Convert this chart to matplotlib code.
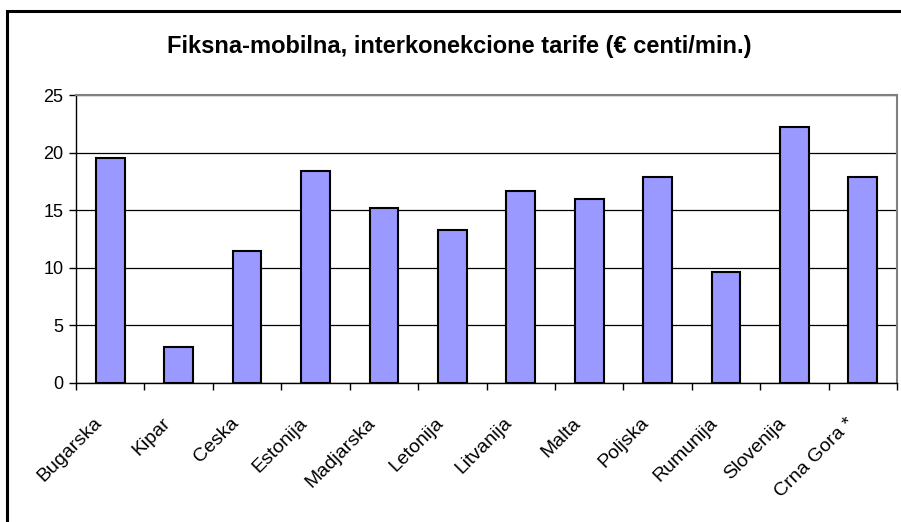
import numpy as np
import matplotlib.pyplot as plt
from matplotlib.patches import Rectangle
from matplotlib.transforms import ScaledTranslation

plt.rcParams['font.family'] = ['Liberation Sans', 'DejaVu Sans']

zemlje = ['Bugarska', 'Kipar', 'Ceska', 'Estonija', 'Madjarska', 'Letonija',
          'Litvanija', 'Malta', 'Poljska', 'Rumunija', 'Slovenija', 'Crna Gora *']
tarife = [19.5, 3.1, 11.5, 18.4, 15.2, 13.3, 16.7, 16.0, 17.9, 9.6, 22.2, 17.9]
y_ticks = [0, 5, 10, 15, 20, 25]

fig = plt.figure(figsize=(9.01, 5.22), dpi=100)
ax = fig.add_axes([0.0844, 0.2663, 0.9112, 0.5517])

x = np.arange(len(zemlje))
ax.bar(x, tarife, width=0.42, color='#9999FF', edgecolor='black', linewidth=1.5, zorder=3)

ax.set_xlim(-0.5, len(zemlje) - 0.5)
ax.set_ylim(0, 25)
ax.set_yticks(y_ticks)
ax.yaxis.grid(True, color='black', linewidth=0.9, zorder=0)
ax.tick_params(axis='y', direction='out', length=5, width=1, labelsize=13, pad=4)

# kategorije: oznake bez crtica, crtice izmedju kategorija
ax.set_xticks(x)
ax.set_xticklabels(zemlje, rotation=45, ha='right', va='center', rotation_mode='anchor')
ax.set_xticks(np.arange(-0.5, len(zemlje)), minor=True)
ax.tick_params(axis='x', which='major', length=0, labelsize=14, pad=22)
ax.tick_params(axis='x', which='minor', direction='out', length=5, width=1)
pomak = ScaledTranslation(-11 / 100, -7 / 100, fig.dpi_scale_trans)
for lbl in ax.get_xticklabels():
    lbl.set_transform(lbl.get_transform() + pomak)

for s in ['top', 'right']:
    ax.spines[s].set_color('#808080')
    ax.spines[s].set_linewidth(1.5)
for s in ['left', 'bottom']:
    ax.spines[s].set_color('black')
    ax.spines[s].set_linewidth(1)

fig.text(0.51, 0.91, 'Fiksna-mobilna, interkonekcione tarife (€ centi/min.)',
         ha='center', va='center', fontsize=17, fontweight='bold')

# okvir oko grafika
fig.patches.append(Rectangle((7 / 901, -0.1), 1.1, 1 - 11 / 522 + 0.1, transform=fig.transFigure,
                             fill=False, edgecolor='black', linewidth=2.2))

fig.savefig('out.png', dpi=100)
